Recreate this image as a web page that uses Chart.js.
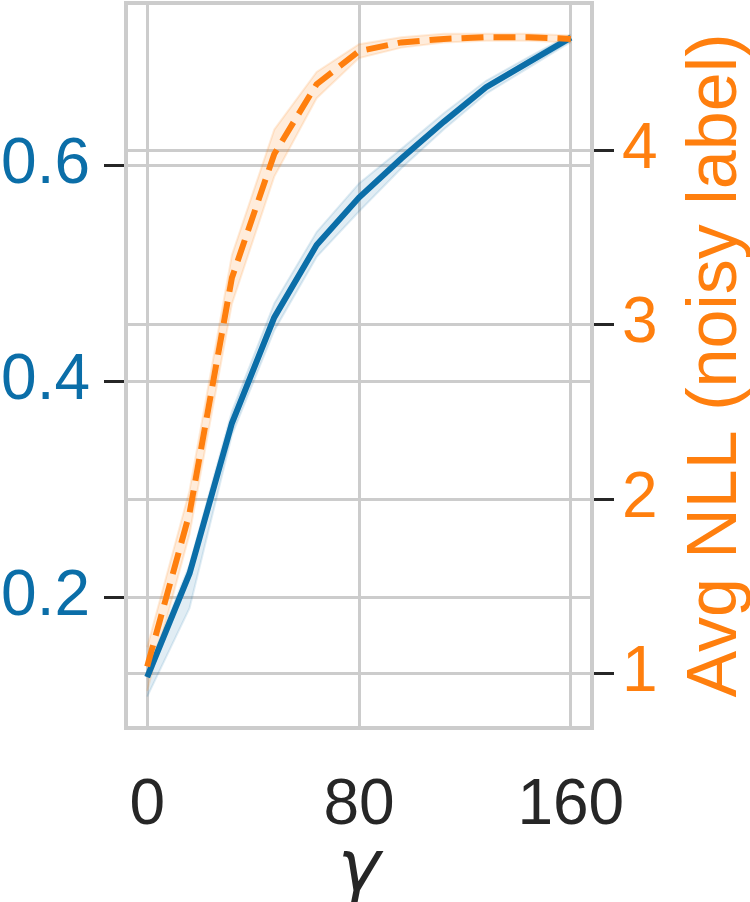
<!DOCTYPE html>
<html>
<head>
<meta charset="utf-8">
<script src="https://cdn.jsdelivr.net/npm/chart.js@4/dist/chart.umd.min.js"></script>
<style>
  html, body { margin: 0; padding: 0; background: #fff; }
  canvas { display: block; }
</style>
</head>
<body>
<canvas id="chart" width="750" height="902"></canvas>
<script>
// data
const gamma = [0, 16, 32, 48, 64, 80, 96, 112, 128, 144, 160];
const leftValue = [0.126, 0.222, 0.361, 0.459, 0.526, 0.570, 0.606, 0.640, 0.672, 0.695, 0.718];
const leftLow   = [0.108, 0.190, 0.350, 0.447, 0.515, 0.557, 0.597, 0.633, 0.666, 0.690, 0.714];
const leftHigh  = [0.132, 0.230, 0.372, 0.472, 0.538, 0.583, 0.615, 0.648, 0.678, 0.700, 0.721];
const nllValue = [1.04, 1.92, 3.27, 3.98, 4.38, 4.57, 4.62, 4.64, 4.65, 4.65, 4.64];
const nllLow   = [0.90, 1.80, 3.12, 3.85, 4.30, 4.53, 4.59, 4.62, 4.63, 4.63, 4.62];
const nllHigh  = [1.15, 2.05, 3.40, 4.12, 4.45, 4.61, 4.65, 4.67, 4.67, 4.67, 4.66];

const xTicks = [0, 80, 160];
const leftTicks = [0.2, 0.4, 0.6];
const rightTicks = [1, 2, 3, 4];
const xTitle = 'γ';
const rightTitle = 'Avg NLL (noisy label)';

const BLUE = '#0b6ea8';
const ORANGE = '#ff7f0e';
const GRID = '#cccccc';
const DARK = '#262626';
const FONT = "'Liberation Sans', Arial, sans-serif";

const pts = (ys) => gamma.map((g, i) => ({ x: g, y: ys[i] }));

const band = (ys, axis, color, fill, order) => ({
  data: pts(ys),
  yAxisID: axis,
  borderColor: color,
  borderWidth: 2,
  backgroundColor: color,
  pointRadius: 0,
  fill: fill,
  order: order
});

// grey frame round the plot area and the right axis title
const framePlugin = {
  id: 'frame',
  beforeDatasetsDraw(chart) {
    const { ctx, chartArea: a } = chart;
    ctx.save();
    ctx.strokeStyle = GRID;
    ctx.lineWidth = 4;
    ctx.strokeRect(a.left, a.top, a.right - a.left, a.bottom - a.top);
    ctx.restore();
  },
  afterDraw(chart) {
    const { ctx, chartArea: a } = chart;
    ctx.save();
    ctx.translate(717, (a.top + a.bottom) / 2);
    ctx.rotate(-Math.PI / 2);
    ctx.fillStyle = ORANGE;
    ctx.font = '70px ' + FONT;
    ctx.textAlign = 'center';
    ctx.textBaseline = 'middle';
    ctx.fillText(rightTitle, 0, 0);
    ctx.restore();
  }
};

const setTicks = (list) => (scale) => { scale.ticks = list.map(v => ({ value: v })); };
const fixSize = (prop, size) => (s) => {
  s[prop] = size;
  s.paddingTop = 0; s.paddingBottom = 0; s.paddingLeft = 0; s.paddingRight = 0;
};

new Chart(document.getElementById('chart'), {
  type: 'line',
  data: {
    datasets: [
      {
        label: rightTitle,
        data: pts(nllValue),
        yAxisID: 'y2',
        borderColor: ORANGE,
        borderWidth: 6,
        borderDash: [22, 10],
        pointRadius: 0,
        fill: false,
        order: 0
      },
      {
        label: 'left',
        data: pts(leftValue),
        yAxisID: 'y',
        borderColor: BLUE,
        borderWidth: 6,
        pointRadius: 0,
        fill: false,
        order: 1
      },
      band(nllLow, 'y2', 'rgba(255,127,14,0.15)', false, 2),
      band(nllHigh, 'y2', 'rgba(255,127,14,0.15)', '-1', 2),
      band(leftLow, 'y', 'rgba(11,110,168,0.12)', false, 3),
      band(leftHigh, 'y', 'rgba(11,110,168,0.12)', '-1', 3)
    ]
  },
  options: {
    responsive: false,
    animation: false,
    devicePixelRatio: 1,
    layout: { padding: { top: 3, left: 0, right: 0, bottom: 0 } },
    plugins: { legend: { display: false }, tooltip: { enabled: false } },
    elements: { line: { tension: 0 } },
    scales: {
      x: {
        type: 'linear',
        min: -8,
        max: 168,
        afterBuildTicks: setTicks(xTicks),
        afterFit: fixSize('height', 174),
        border: { display: false },
        grid: { color: GRID, lineWidth: 3, drawTicks: false },
        ticks: { color: DARK, font: { family: FONT, size: 64 }, padding: 40 },
        title: {
          display: true,
          text: xTitle,
          color: DARK,
          font: { family: "'DejaVu Sans', sans-serif", size: 72, style: 'italic' },
          padding: { top: 0, bottom: -12 }
        }
      },
      y: {
        position: 'left',
        min: 0.079,
        max: 0.75,
        afterBuildTicks: setTicks(leftTicks),
        afterFit: fixSize('width', 126),
        border: { display: false },
        grid: { color: GRID, lineWidth: 3, tickLength: 22, tickColor: DARK, tickWidth: 3 },
        ticks: { color: BLUE, font: { family: FONT, size: 64 }, padding: 14, callback: (v) => v.toFixed(1) }
      },
      y2: {
        position: 'right',
        min: 0.687,
        max: 4.846,
        afterBuildTicks: setTicks(rightTicks),
        afterFit: fixSize('width', 158),
        border: { display: false },
        grid: { color: GRID, lineWidth: 3, tickLength: 22, tickColor: DARK, tickWidth: 3 },
        ticks: { color: ORANGE, font: { family: FONT, size: 64 }, padding: 8 }
      }
    }
  },
  plugins: [framePlugin]
});
</script>
</body>
</html>
